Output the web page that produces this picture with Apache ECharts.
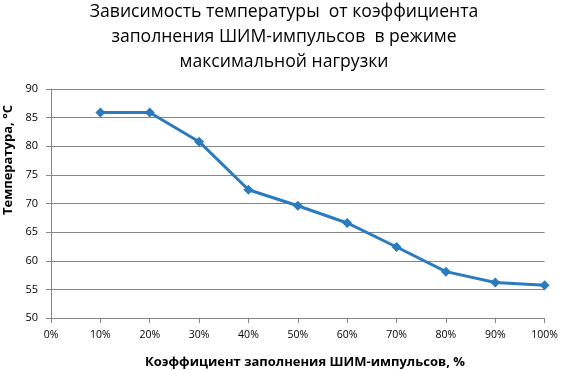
<!DOCTYPE html>
<html><head><meta charset="utf-8">
<script src="https://cdn.jsdelivr.net/npm/echarts@6/dist/echarts.min.js"></script>
<style>html,body{margin:0;padding:0;background:#fff}#c{width:561px;height:370px}</style>
</head><body><div id="c"></div>
<script>
const xValues = [10, 20, 30, 40, 50, 60, 70, 80, 90, 100];
const temperatures = [85.9, 85.9, 80.8, 72.4, 69.6, 66.6, 62.4, 58.1, 56.2, 55.7];
const titleLines = ['Зависимость температуры  от коэффициента', 'заполнения ШИМ-импульсов  в режиме', 'максимальной нагрузки'];
const xName = 'Коэффициент заполнения ШИМ-импульсов, %';
const yName = 'Температура, °С';

const chart = echarts.init(document.getElementById('c'), null, {renderer: 'canvas'});
const gridColor = '#868686';
const font = '"Open Sans", "Noto Sans", sans-serif';
chart.setOption({
  animation: false,
  title: {
    text: titleLines.join('\n'),
    left: 279, top: -6, textAlign: 'center',
    textStyle: {fontFamily: font, fontSize: 17.6, fontWeight: 'normal', color: '#000', lineHeight: 25}
  },
  graphic: [
    {type: 'text', x: 305, y: 362, style: {text: xName, fontFamily: font, fontSize: 13, fontWeight: 'bold', fill: '#000', textAlign: 'center', textVerticalAlign: 'middle'}},
    {type: 'text', x: 8, y: 160, rotation: Math.PI / 2, style: {text: yName, fontFamily: font, fontSize: 13, fontWeight: 'bold', fill: '#000', textAlign: 'center', textVerticalAlign: 'middle'}}
  ],
  grid: {left: 51, right: 16, top: 89, bottom: 52},
  xAxis: {
    type: 'value', min: 0, max: 100, interval: 10,
    axisLine: {show: true, lineStyle: {color: gridColor}},
    axisTick: {show: true, length: 5, lineStyle: {color: gridColor}},
    axisLabel: {formatter: '{value}%', fontFamily: font, fontSize: 10.5, color: '#000', margin: 12},
    splitLine: {show: false}
  },
  yAxis: {
    type: 'value', min: 50, max: 90, interval: 5,
    axisLine: {show: true, lineStyle: {color: gridColor}},
    axisTick: {show: true, length: 5, lineStyle: {color: gridColor}},
    axisLabel: {fontFamily: font, fontSize: 11, color: '#000', margin: 13},
    splitLine: {show: true, lineStyle: {color: gridColor}}
  },
  series: [{
    type: 'line',
    data: xValues.map((x, i) => [x, temperatures[i]]),
    symbol: 'diamond', symbolSize: 10,
    lineStyle: {color: '#2b7bbd', width: 3},
    itemStyle: {color: '#2b7bbd'}
  }]
});
</script></body></html>
